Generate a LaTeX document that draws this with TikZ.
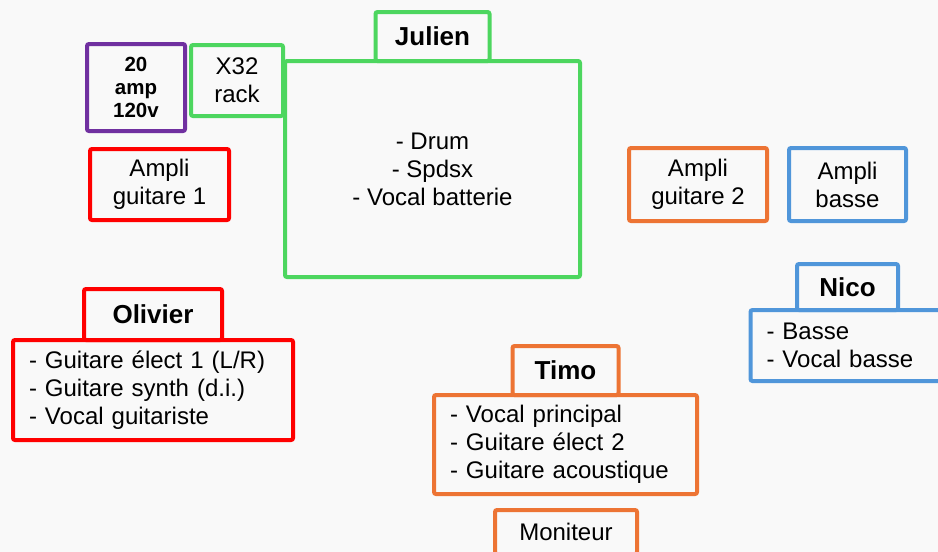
\documentclass[tikz,border=0pt]{standalone}
\usepackage{fontspec}
\setmainfont{Liberation Sans}
\usetikzlibrary{positioning}

\definecolor{bgrey}{HTML}{F9F9F9}
\definecolor{olivred}{HTML}{FF0000}
\definecolor{julgreen}{HTML}{4DD65F}
\definecolor{timorange}{HTML}{ED7434}
\definecolor{nicoblue}{HTML}{5096DA}
\definecolor{ampviolet}{HTML}{7030A0}

\begin{document}
\begin{tikzpicture}[x=1pt, y=-1pt,
    box/.style={draw=#1, line width=4pt, rounded corners=2pt, inner sep=0pt,
        outer sep=0pt, align=center, font=\fontsize{24}{28}\selectfont},
    listbox/.style={box=#1, align=left, inner xsep=16pt},
    tab/.style={box=#1, minimum height=49pt, font=\fontsize{26}{28}\selectfont\bfseries}]

    % fond
    \fill[bgrey] (0,0) rectangle (938,552);
    \clip (0,0) rectangle (938,552);

    % Julien
    \node[box=julgreen, minimum width=295pt, minimum height=216pt] (julien) at (432.5,169)
        {- Drum\\- Spdsx\\- Vocal batterie};
    \node[tab=julgreen, minimum width=114pt, above=0pt of julien] (juliennom) {Julien};
    \node[box=julgreen, minimum width=92pt, minimum height=71pt] (x32) at (237,80.5) {X32\\rack};
    \node[box=ampviolet, minimum width=98pt, minimum height=87pt,
        font=\fontsize{20.5}{23}\selectfont\bfseries] (prise) at (136,87.5) {20\\amp\\120v};

    % Olivier
    \node[box=olivred, minimum width=139pt, minimum height=71pt] (ampliolivier) at (159.5,184.5)
        {Ampli\\guitare 1};
    \node[listbox=olivred, text width=248pt, minimum height=100pt] (olivier) at (153,390)
        {- Guitare élect 1 (L/R)\\- Guitare synth (d.i.)\\- Vocal guitariste};
    \node[tab=olivred, minimum width=138pt, minimum height=51pt, above=0pt of olivier] (oliviernom) {Olivier};

    % Timo
    \node[box=timorange, minimum width=138pt, minimum height=73pt] (amplitimo) at (698,184.5)
        {Ampli\\guitare 2};
    \node[listbox=timorange, text width=231pt, minimum height=99pt] (timo) at (565.5,444.5)
        {- Vocal principal\\- Guitare élect 2\\- Guitare acoustique};
    \node[tab=timorange, minimum width=106pt, above=0pt of timo] (timonom) {Timo};
    \node[box=timorange, minimum width=142pt, minimum height=44pt] (moniteur) at (566,532) {Moniteur};

    % Nico
    \node[box=nicoblue, minimum width=117pt, minimum height=73pt] (amplinico) at (847.5,184.5)
        {Ampli\\basse};
    \node[listbox=nicoblue, text width=162pt, minimum height=71pt] (nico) at (847.5,345.5)
        {- Basse\\- Vocal basse};
    \node[tab=nicoblue, minimum width=101pt, minimum height=46pt, above=0pt of nico] (nironom) {Nico};
\end{tikzpicture}
\end{document}
